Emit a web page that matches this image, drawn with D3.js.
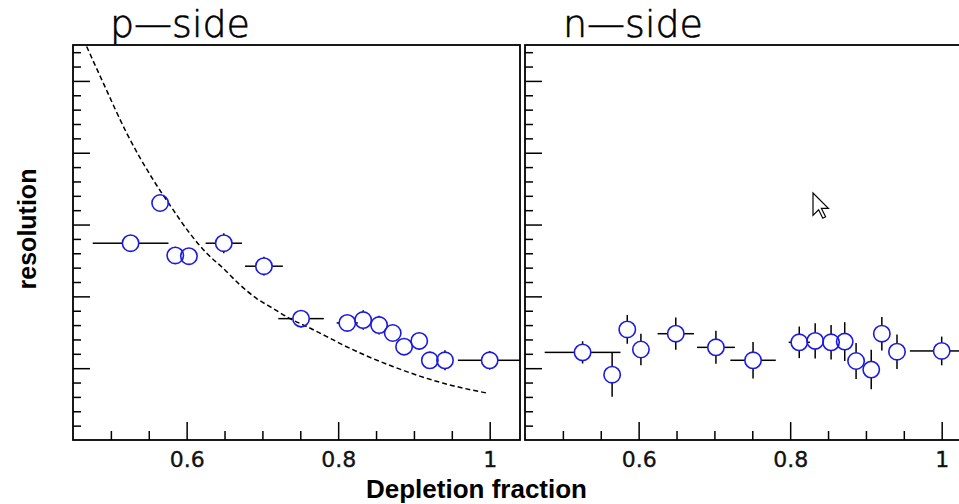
<!DOCTYPE html>
<html><head><meta charset="utf-8">
<script src="https://cdn.jsdelivr.net/npm/d3@7"></script>
<style>body{margin:0;background:#fff}svg{display:block}</style>
</head><body><svg id="c" width="959" height="504"></svg>
<script>
// ---- data ----
const depletion = [0.526, 0.565, 0.585, 0.603, 0.649, 0.702, 0.751, 0.812, 0.833, 0.854, 0.872, 0.887, 0.907, 0.921, 0.941, 1.0];
const depletionErr = [0.05, 0, 0, 0, 0.024, 0.025, 0.03, 0.014, 0.01, 0.01, 0.01, 0.008, 0.008, 0.008, 0.008, 0.042];
const pSideRes = [2.74, 3.30, 2.57, 2.56, 2.74, 2.42, 1.69, 1.63, 1.67, 1.60, 1.49, 1.30, 1.38, 1.11, 1.11, 1.11];
const pSideErr = [0.08, 0.12, 0.12, 0.10, 0.14, 0.13, 0.12, 0.10, 0.135, 0.13, 0.10, 0.10, 0.12, 0.12, 0.14, 0.13];
const nSideRes = [1.22, 0.91, 1.54, 1.26, 1.48, 1.29, 1.11, 1.36, 1.38, 1.36, 1.37, 1.10, 0.98, 1.48, 1.23, 1.24];
const nSideErr = [0.155, 0.307, 0.20, 0.22, 0.225, 0.23, 0.255, 0.22, 0.245, 0.24, 0.27, 0.25, 0.275, 0.233, 0.24, 0.20];
const curveX = [0.468, 0.490, 0.521, 0.556, 0.578, 0.604, 0.6265, 0.6484, 0.6704, 0.6925, 0.7144, 0.7364, 0.7585, 0.785, 0.807, 0.873, 0.939, 0.998];
const curveY = [5.48, 4.97, 4.27, 3.62, 3.27, 2.88, 2.60, 2.39, 2.16, 1.97, 1.83, 1.69, 1.58, 1.44, 1.32, 1.02, 0.79, 0.65];
const xMajorTicks = [0.6, 0.8, 1.0];
const xTickLabels = ["0.6", "0.8", "1"];
const panelTitles = ["p\u2014side", "n\u2014side"];
const xTitle = "Depletion fraction";
const yTitle = "resolution";

// ---- layout ----
const svg = d3.select("#c");
const yTop = 45, yBottom = 440;
const panels = [
  {x0: 73, x1: 520, res: pSideRes, err: pSideErr, title: panelTitles[0], tx: 110, curve: true},
  {x0: 525, x1: 972, res: nSideRes, err: nSideErr, title: panelTitles[1], tx: 563, curve: false}
];
const y = d3.scaleLinear().domain([0, 5.5]).range([yBottom, yTop]);
const R = 8.2;
const blue = "#1a1ae0";

svg.append("defs").selectAll("clipPath").data(panels).join("clipPath")
  .attr("id", (d, i) => "clip" + i)
  .append("rect").attr("x", d => d.x0).attr("y", yTop).attr("width", d => d.x1 - d.x0).attr("height", yBottom - yTop);

panels.forEach((p, pi) => {
  const x = d3.scaleLinear().domain([0.45, 1.04]).range([p.x0, p.x1]);
  const g = svg.append("g");

  const minor = d3.range(0.5, 1.04, 0.05).filter(v => !xMajorTicks.some(m => Math.abs(m - v) < 1e-6));
  g.append("g").attr("transform", `translate(0,${yBottom})`)
    .call(d3.axisBottom(x).tickValues(minor).tickSize(-9).tickFormat(""))
    .call(a => { a.select(".domain").remove(); a.selectAll("line").attr("stroke", "#000").attr("stroke-width", 1.5); });
  g.append("g").attr("transform", `translate(0,${yBottom})`)
    .call(d3.axisBottom(x).tickValues(xMajorTicks).tickSize(-18).tickPadding(11)
      .tickFormat((d, i) => xTickLabels[i]))
    .call(a => {
      a.select(".domain").remove();
      a.selectAll("line").attr("stroke", "#000").attr("stroke-width", 1.5);
      a.selectAll("text").attr("font-family", "DejaVu Sans, sans-serif").attr("font-size", 22)
        .attr("fill", "#111").attr("stroke", "#111").attr("stroke-width", 0.35);
    });
  const yMinor = d3.range(0.2, 5.5, 0.2).filter(v => Math.abs(v - Math.round(v)) > 1e-6);
  g.append("g").attr("transform", `translate(${p.x0},0)`)
    .call(d3.axisLeft(y).tickValues(yMinor).tickSize(-8).tickFormat(""))
    .call(a => { a.select(".domain").remove(); a.selectAll("line").attr("stroke", "#000").attr("stroke-width", 1.5); });
  g.append("g").attr("transform", `translate(${p.x0},0)`)
    .call(d3.axisLeft(y).tickValues([1, 2, 3, 4, 5]).tickSize(-17).tickFormat(""))
    .call(a => { a.select(".domain").remove(); a.selectAll("line").attr("stroke", "#000").attr("stroke-width", 1.5); });

  g.append("rect").attr("x", p.x0).attr("y", yTop).attr("width", p.x1 - p.x0).attr("height", yBottom - yTop)
    .attr("fill", "none").attr("stroke", "#000").attr("stroke-width", 1.8);

  const plot = g.append("g").attr("clip-path", `url(#clip${pi})`);

  if (p.curve) {
    const pts = curveX.map((v, i) => [v, curveY[i]]);
    plot.append("path").datum(pts)
      .attr("d", d3.line().x(d => x(d[0])).y(d => y(d[1])).curve(d3.curveMonotoneX))
      .attr("fill", "none").attr("stroke", "#000").attr("stroke-width", 1.5).attr("stroke-dasharray", "5,3");
  }

  const segs = [];
  depletion.forEach((xv, i) => {
    const cx = x(xv), cy = y(p.res[i]);
    const yt = y(p.res[i] + p.err[i]), yb = y(p.res[i] - p.err[i]);
    if (cy - yt > R) { segs.push([cx, yt, cx, cy - R]); segs.push([cx, cy + R, cx, yb]); }
    const xl = x(xv - depletionErr[i]), xr = x(xv + depletionErr[i]);
    if (cx - xl > R) { segs.push([xl, cy, cx - R, cy]); segs.push([cx + R, cy, xr, cy]); }
  });
  plot.append("g").selectAll("line").data(segs).join("line")
    .attr("x1", d => d[0]).attr("y1", d => d[1]).attr("x2", d => d[2]).attr("y2", d => d[3])
    .attr("stroke", "#000").attr("stroke-width", 1.5);

  plot.append("g").selectAll("circle").data(depletion).join("circle")
    .attr("cx", d => x(d)).attr("cy", (d, i) => y(p.res[i])).attr("r", R)
    .attr("fill", "none").attr("stroke", blue).attr("stroke-width", 1.6);

  svg.append("text").attr("x", p.tx).attr("y", 37)
    .attr("font-family", "DejaVu Sans, sans-serif").attr("font-size", 38).attr("font-weight", 200)
    .attr("fill", "#000").attr("stroke", "#000").attr("stroke-width", 0.6).text(p.title);
});

svg.append("text").attr("x", 476.5).attr("y", 498).attr("text-anchor", "middle")
  .attr("font-family", "Liberation Sans, Arial, sans-serif").attr("font-weight", "bold").attr("font-size", 26)
  .text(xTitle);
svg.append("text").attr("transform", "translate(36,229) rotate(-90)").attr("text-anchor", "middle")
  .attr("font-family", "Liberation Sans, Arial, sans-serif").attr("font-weight", "bold").attr("font-size", 25)
  .text(yTitle);

// mouse pointer captured in the reference screenshot
const arrow = [[0,0],[0,22.4],[5.6,16.8],[9.8,25.2],[12.6,23.8],[8.4,15.4],[15.4,15.4]];
svg.append("path").attr("transform", "translate(813,193)")
  .attr("d", d3.line()(arrow) + "Z").attr("fill", "#fff").attr("stroke", "#000").attr("stroke-width", 1.2);
</script>
</body></html>
